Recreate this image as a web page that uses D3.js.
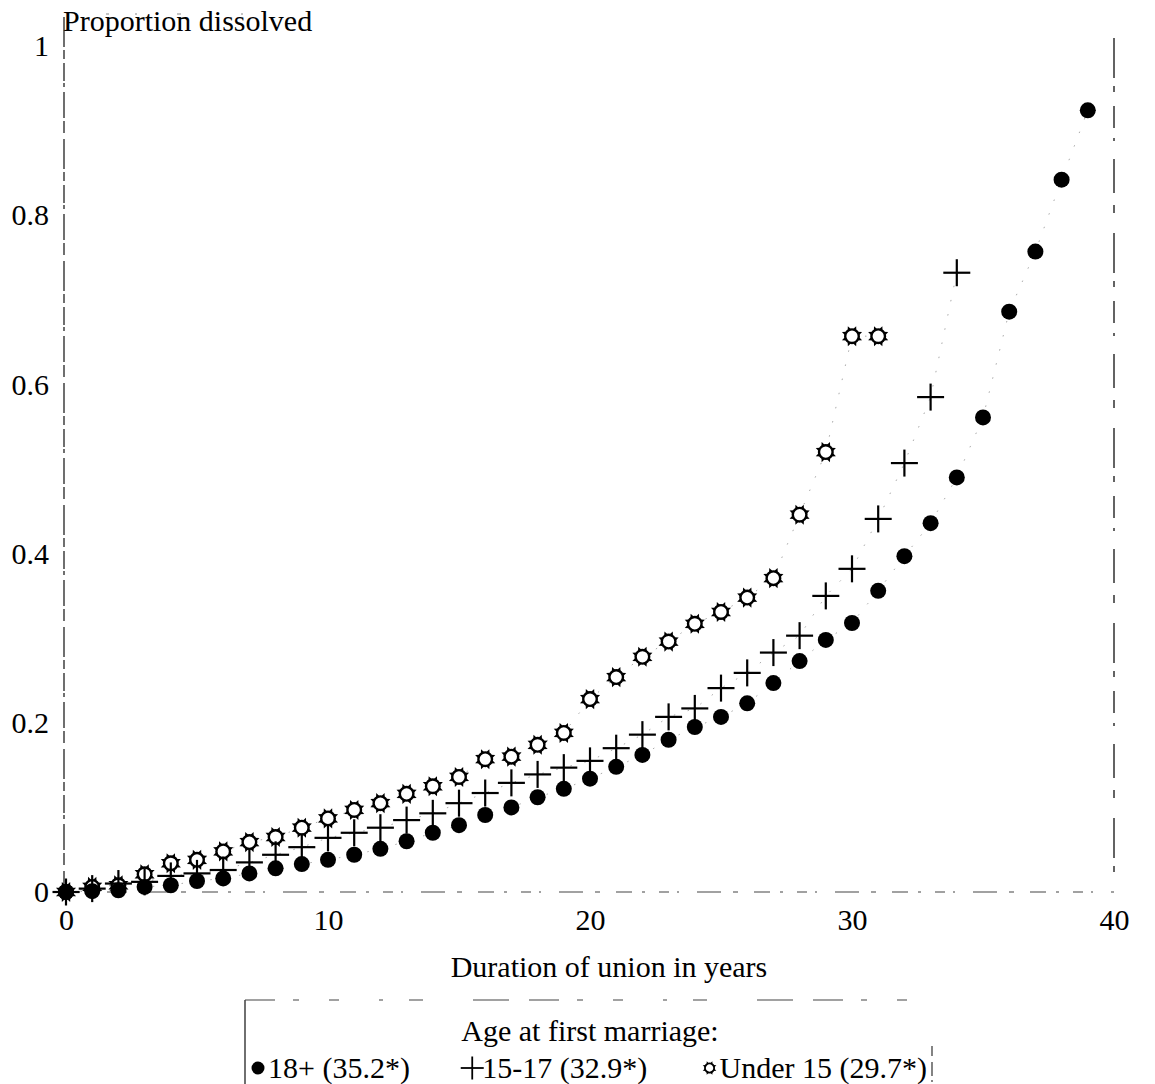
<!DOCTYPE html>
<html>
<head>
<meta charset="utf-8">
<script src="https://cdn.jsdelivr.net/npm/d3@7"></script>
<style>
  html, body { margin: 0; padding: 0; background: #fff; }
  svg { display: block; }
</style>
</head>
<body>
<svg id="chart" width="1155" height="1084"></svg>
<script>
// Cumulative proportion of first unions dissolved, by duration of union (years)
const durations18 = [0,1,2,3,4,5,6,7,8,9,10,11,12,13,14,15,16,17,18,19,20,21,22,23,24,25,26,27,28,29,30,31,32,33,34,35,36,37,38,39];
const dissolved18 = [0.000,0.001,0.002,0.006,0.008,0.013,0.016,0.022,0.028,0.033,0.038,0.044,0.051,0.060,0.070,0.079,0.091,0.100,0.112,0.122,0.134,0.148,0.162,0.180,0.195,0.207,0.223,0.247,0.273,0.298,0.318,0.356,0.397,0.436,0.490,0.561,0.686,0.757,0.842,0.924];

const durations1517 = [0,1,2,3,4,5,6,7,8,9,10,11,12,13,14,15,16,17,18,19,20,21,22,23,24,25,26,27,28,29,30,31,32,33,34];
const dissolved1517 = [0.000,0.004,0.010,0.012,0.019,0.022,0.026,0.035,0.044,0.053,0.064,0.070,0.076,0.085,0.093,0.105,0.117,0.129,0.139,0.147,0.155,0.170,0.186,0.207,0.217,0.241,0.259,0.283,0.303,0.350,0.382,0.441,0.507,0.585,0.732];

const durationsU15 = [0,1,2,3,4,5,6,7,8,9,10,11,12,13,14,15,16,17,18,19,20,21,22,23,24,25,26,27,28,29,30,31];
const dissolvedU15 = [0.000,0.006,0.008,0.021,0.034,0.038,0.048,0.059,0.065,0.076,0.087,0.097,0.105,0.116,0.125,0.136,0.157,0.160,0.174,0.188,0.228,0.254,0.278,0.296,0.317,0.331,0.348,0.371,0.446,0.520,0.657,0.657];

const xTicks = [0, 10, 20, 30, 40];
const yTicks = [0, 0.2, 0.4, 0.6, 0.8, 1];

const legendTitle = "Age at first marriage:";
const legendLabels = ["18+ (35.2*)", "15-17 (32.9*)", "Under 15 (29.7*)"];
const yTitle = "Proportion dissolved";
const xTitle = "Duration of union in years";

const SERIF = '"Liberation Serif", "Times New Roman", Times, "DejaVu Serif", serif';
const FONT = 30;

const svg = d3.select("#chart").attr("font-family", SERIF);

const x = d3.scaleLinear().domain([0, 40]).range([66, 1114]);
const y = d3.scaleLinear().domain([0, 1]).range([892, 46]);
const frameTop = 17;

function label(sel) {
  return sel.attr("font-family", SERIF).style("font-family", SERIF)
    .attr("font-size", FONT).attr("fill", "#000");
}

// broken, scan-like frame lines
const dashV = "30,3,9,4,18,2,4,5,26,3,12,6";
const dashH = "16,10,3,14,10,8,2,18,24,12,5,16";

const yAxis = d3.axisLeft(y).tickValues(yTicks).tickSize(0).tickPadding(15)
  .tickFormat(d => d === 0 ? "0" : d === 1 ? "1" : d3.format(".1f")(d));
const gy = svg.append("g").attr("transform", `translate(${x(0) - 2},0)`).call(yAxis);
gy.select(".domain").remove();
gy.append("line").attr("x1", 0).attr("x2", 0).attr("y1", frameTop).attr("y2", y(0))
  .attr("stroke", "#222").attr("stroke-width", 1.3).attr("stroke-dasharray", dashV);

const xAxis = d3.axisBottom(x).tickValues(xTicks).tickSize(0).tickPadding(17)
  .tickFormat(d3.format("d"));
const gx = svg.append("g").attr("transform", `translate(0,${y(0)})`).call(xAxis);
gx.select(".domain").remove();
gx.append("line").attr("x1", x(0) - 2).attr("x2", x(40)).attr("y1", 0).attr("y2", 0)
  .attr("stroke", "#444").attr("stroke-width", 1.2).attr("stroke-dasharray", dashH);

[gx, gy].forEach(g => { g.attr("font-family", SERIF); label(g.selectAll(".tick text")); });

// right and top edges of the frame
svg.append("line").attr("x1", x(40)).attr("x2", x(40)).attr("y1", 38).attr("y2", y(0) - 8)
  .attr("stroke", "#222").attr("stroke-width", 1.4).attr("stroke-dasharray", "40,8,6,14,22,10,3,18,34,12,8,20");
svg.append("line").attr("x1", x(0) + 40).attr("x2", x(0) + 240).attr("y1", frameTop - 3).attr("y2", frameTop - 3)
  .attr("stroke", "#888").attr("stroke-width", 1).attr("stroke-dasharray", "3,26,2,40,4,60,2,90");

// axis titles
label(svg.append("text")).attr("x", x(0) - 3).attr("y", 31).text(yTitle);
label(svg.append("text")).attr("x", 609).attr("y", 977)
  .attr("text-anchor", "middle").text(xTitle);

// faint dotted guides joining the points of each group
const lineGen = d3.line().x(d => x(d[0])).y(d => y(d[1]));
const zipped = (xs, vs) => xs.map((d, i) => [d, vs[i]]);
[[durations18, dissolved18], [durations1517, dissolved1517], [durationsU15, dissolvedU15]].forEach(([xs, vs]) => {
  svg.append("path").datum(zipped(xs, vs)).attr("d", lineGen)
    .attr("fill", "none").attr("stroke", "#aaa").attr("stroke-width", 1)
    .attr("stroke-dasharray", "1.5,13");
});

// marker shapes
function drawStar(g, r, sw) {
  d3.range(8).map(i => i * Math.PI / 4 + Math.PI / 8).forEach(a => {
    g.append("path")
      .attr("d", `M${Math.cos(a - 0.3) * r},${Math.sin(a - 0.3) * r}L${Math.cos(a) * r * 1.6},${Math.sin(a) * r * 1.6}L${Math.cos(a + 0.3) * r},${Math.sin(a + 0.3) * r}Z`)
      .attr("fill", "#000");
  });
  g.append("circle").attr("r", r).attr("fill", "#fff").attr("stroke", "#000").attr("stroke-width", sw);
}
function drawCross(g, s, w) {
  g.append("line").attr("x1", -s).attr("x2", s).attr("y1", 0).attr("y2", 0).attr("stroke", "#000").attr("stroke-width", w);
  g.append("line").attr("x1", 0).attr("x2", 0).attr("y1", -s).attr("y2", s).attr("stroke", "#000").attr("stroke-width", w);
}

// under 15
svg.append("g").selectAll("g").data(zipped(durationsU15, dissolvedU15)).join("g")
  .attr("transform", d => `translate(${x(d[0])},${y(d[1])})`)
  .each(function () { drawStar(d3.select(this), 6.8, 2.4); });

// 15-17
svg.append("g").selectAll("g").data(zipped(durations1517, dissolved1517)).join("g")
  .attr("transform", d => `translate(${x(d[0])},${y(d[1])})`)
  .each(function () { drawCross(d3.select(this), 13.5, 2.2); });

// 18+
svg.append("g").selectAll("circle").data(zipped(durations18, dissolved18)).join("circle")
  .attr("cx", d => x(d[0])).attr("cy", d => y(d[1])).attr("r", 8).attr("fill", "#000");

// legend box
const lg = svg.append("g");
const boxL = 245, boxR = 932, boxT = 1000;
lg.append("line").attr("x1", boxL).attr("x2", boxL).attr("y1", boxT).attr("y2", 1084)
  .attr("stroke", "#222").attr("stroke-width", 1.3);
lg.append("line").attr("x1", boxL).attr("x2", boxR + 3).attr("y1", boxT).attr("y2", boxT)
  .attr("stroke", "#444").attr("stroke-width", 1.2).attr("stroke-dasharray", "30,18,6,30,10,40,4,26,14,50,36,20");
lg.append("line").attr("x1", boxR).attr("x2", boxR).attr("y1", 1046).attr("y2", 1082)
  .attr("stroke", "#333").attr("stroke-width", 1.2).attr("stroke-dasharray", "10,6,14,4");
label(lg.append("text")).attr("x", 590).attr("y", 1041).attr("text-anchor", "middle").text(legendTitle);

// legend entries laid out left to right between the box edges
const itemY = 1068;
const startX = 251, endX = 927, keyW = 17;
const texts = legendLabels.map(t => label(lg.append("text")).attr("y", itemY + 10).text(t));
const widths = texts.map(t => t.node().getComputedTextLength());
const used = widths.reduce((a, b) => a + b, 0) + keyW * 3;
const gap = (endX - startX - used) / 2;
let cx = startX;
const keys = [
  g => g.append("circle").attr("r", 6.5).attr("fill", "#000"),
  g => drawCross(g, 11.5, 1.8),
  g => drawStar(g, 4.6, 1.8)
];
texts.forEach((t, i) => {
  keys[i](lg.append("g").attr("transform", `translate(${cx + 7},${itemY})`));
  t.attr("x", cx + keyW);
  cx += keyW + widths[i] + gap;
});
</script>
</body>
</html>
